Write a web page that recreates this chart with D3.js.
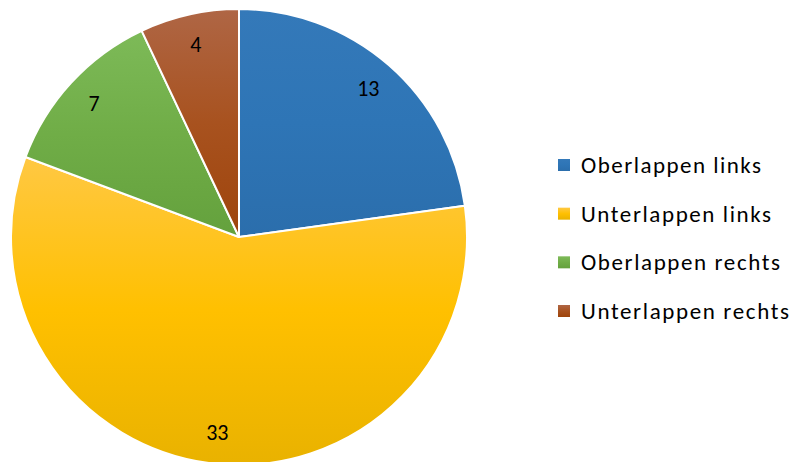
<!DOCTYPE html>
<html>
<head>
<meta charset="utf-8">
<script src="https://cdn.jsdelivr.net/npm/d3@7/dist/d3.min.js"></script>
<style>
  html, body { margin: 0; padding: 0; background: #fff; }
  svg { display: block; }
  text { font-family: Carlito, "Open Sans", "Liberation Sans", sans-serif; fill: #000; }
</style>
</head>
<body>
<svg id="chart" width="796" height="462"></svg>
<script>
// Lobe categories and counts
const categories = ["Oberlappen links", "Unterlappen links", "Oberlappen rechts", "Unterlappen rechts"];
const counts = [13, 33, 7, 4];
// Gradient stops per slice: light top, base middle, dark bottom
const colorTop = ["#3479B9", "#FFC843", "#7DBA58", "#AF6645"];
const colorMid = ["#2E75B6", "#FFC000", "#70AD47", "#A8521F"];
const colorBot = ["#2B6EAC", "#E9B200", "#64A13D", "#9E440B"];

const svg = d3.select("#chart");
const cx = 239, cy = 237, R = 228;

const defs = svg.append("defs");
categories.forEach((c, i) => {
  const g = defs.append("linearGradient")
    .attr("id", "grad" + i)
    .attr("x1", 0).attr("y1", 0).attr("x2", 0).attr("y2", 1);
  g.append("stop").attr("offset", "0%").attr("stop-color", colorTop[i]);
  g.append("stop").attr("offset", "50%").attr("stop-color", colorMid[i]);
  g.append("stop").attr("offset", "100%").attr("stop-color", colorBot[i]);
});

const pie = d3.pie().sort(null).value(d => d.value);
const data = pie(categories.map((c, i) => ({ name: c, value: counts[i], i })));
const arc = d3.arc().innerRadius(0).outerRadius(R);
const labelArc = d3.arc().innerRadius(197).outerRadius(197);

const g = svg.append("g").attr("transform", `translate(${cx},${cy})`);
g.selectAll("path.slice")
  .data(data)
  .join("path")
  .attr("class", "slice")
  .attr("d", arc)
  .attr("fill", d => `url(#grad${d.data.i})`)
  .attr("stroke", "#fff")
  .attr("stroke-width", 2)
  .attr("stroke-linejoin", "round");

g.selectAll("text.val")
  .data(data)
  .join("text")
  .attr("class", "val")
  .attr("transform", d => `translate(${labelArc.centroid(d)})`)
  .attr("text-anchor", "middle")
  .attr("dominant-baseline", "central")
  .attr("font-size", 22)
  .text(d => d.data.value);

// Legend
const legendY = d3.scalePoint().domain(categories).range([165, 311]);
const legendWidths = [180, 190, 199, 208];
const lg = svg.append("g");
const items = lg.selectAll("g.item")
  .data(categories)
  .join("g")
  .attr("class", "item")
  .attr("transform", d => `translate(0,${legendY(d)})`);
items.append("rect")
  .attr("x", 558).attr("y", -6)
  .attr("width", 12).attr("height", 12)
  .attr("fill", (d, i) => `url(#grad${i})`);
items.append("text")
  .attr("x", 581)
  .attr("y", 0)
  .attr("dominant-baseline", "central")
  .attr("font-size", 23)
  .attr("textLength", (d, i) => legendWidths[i])
  .attr("lengthAdjust", "spacing")
  .text(d => d);
</script>
</body>
</html>
